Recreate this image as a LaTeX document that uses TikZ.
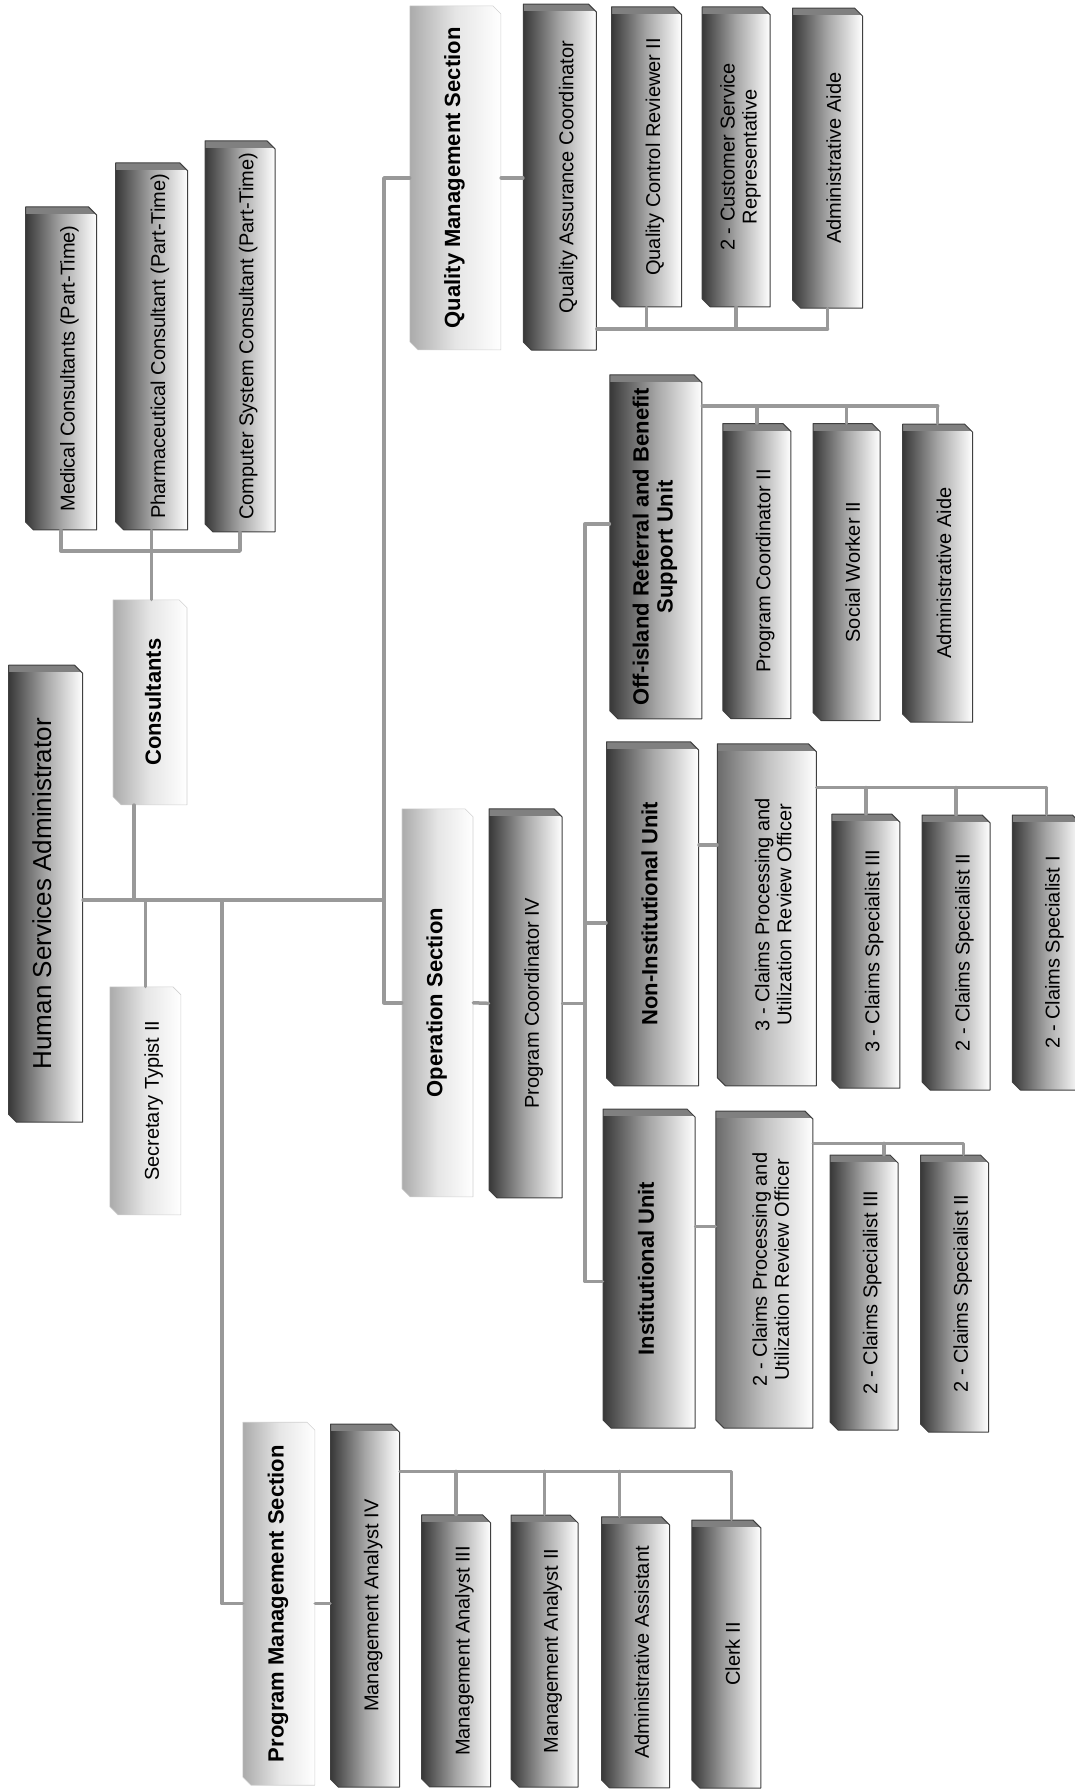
\documentclass[tikz,border=0pt]{standalone}
\usepackage{fontspec}
\setmainfont{Liberation Sans}
\usetikzlibrary{shapes.misc}
\newcommand{\vt}[2][18pt]{\hspace*{#1}\rotatebox{90}{\begin{tabular}{@{}c@{}}#2\end{tabular}}}
\begin{document}
\begin{tikzpicture}[x=1pt, y=-1pt, line cap=round, line join=round, font=\fontsize{20}{22}\selectfont]
	\tikzset{
		basebox/.style={chamfered rectangle, chamfered rectangle corners={north east,south west}, chamfered rectangle xsep=4pt, chamfered rectangle ysep=4pt, inner sep=0pt},
		darkbox/.style={basebox, draw=black!75, line width=1pt, left color=black!78, right color=white, middle color=black!35,
			path picture={\fill[black!50] (path picture bounding box.north west) rectangle ([yshift=-7pt]path picture bounding box.north east);}},
		midbox/.style={darkbox, left color=black!58, right color=white, middle color=black!24},
		unitbox/.style={darkbox, font=\bfseries\fontsize{22}{24}\selectfont},
		secbox/.style={basebox, draw=black!18, line width=0.6pt, left color=black!33, right color=white, middle color=black!10, font=\bfseries\fontsize{22}{24}\selectfont},
		link/.style={draw=black!40, line width=3.5pt}
	}
	\useasboundingbox (0,0) rectangle (1075,1791);
	
	% LEFT COLUMN: ADMINISTRATOR, CONSULTANTS, SECRETARY
	\node[darkbox, minimum width=74pt, minimum height=457pt, font=\fontsize{26}{28}\selectfont] (hsa) at (45.6,893.7) {\vt[0pt]{Human Services Administrator}};
	\node[secbox, minimum width=74pt, minimum height=205pt] (cons) at (150,702.3) {\vt[12pt]{Consultants}};
	\node[secbox, minimum width=71pt, minimum height=228pt, font=\fontsize{20}{22}\selectfont] (sec) at (145.4,1100.8) {\vt{Secretary Typist II}};
	\node[darkbox, minimum width=71pt, minimum height=323pt] (med) at (61.1,368.4) {\vt{Medical Consultants (Part-Time)}};
	\node[darkbox, minimum width=72pt, minimum height=367pt] (pharm) at (151.7,346.3) {\vt{Pharmaceutical Consultant (Part-Time)}};
	\node[darkbox, minimum width=70pt, minimum height=391pt] (comp) at (240,336.4) {\vt{Computer System Consultant (Part-Time)}};
	
	% SECTIONS
	\node[secbox, minimum width=91pt, minimum height=344pt] (qms) at (455.4,177.9) {\vt[0pt]{Quality Management Section}};
	\node[secbox, minimum width=71pt, minimum height=388pt] (op) at (437.5,1002.8) {\vt[0pt]{Operation Section}};
	\node[secbox, minimum width=72pt, minimum height=363pt] (pms) at (278.9,1603.7) {\vt[0pt]{Program Management Section}};
	
	% QUALITY MANAGEMENT
	\node[darkbox, minimum width=73pt, minimum height=346pt] (qac) at (559.9,177) {\vt{Quality Assurance Coordinator}};
	\node[darkbox, minimum width=70pt, minimum height=300pt] (qcr) at (646.6,156.8) {\vt{Quality Control Reviewer II}};
	\node[darkbox, minimum width=68pt, minimum height=300pt] (csr) at (736.2,156.8) {\vt[10pt]{2 - Customer Service\\Representative}};
	\node[darkbox, minimum width=70pt, minimum height=300pt] (aide1) at (827.5,158) {\vt{Administrative Aide}};
	
	% OPERATION
	\node[darkbox, minimum width=73pt, minimum height=389pt] (pc4) at (525.5,1003.3) {\vt{Program Coordinator IV}};
	\node[unitbox, minimum width=92pt, minimum height=344pt] (off) at (655.9,546.8) {\vt[0pt]{Off-island Referral and Benefit\\Support Unit}};
	\node[darkbox, minimum width=68pt, minimum height=295pt] (pc2) at (756.9,571) {\vt{Program Coordinator II}};
	\node[darkbox, minimum width=67pt, minimum height=297pt] (sw2) at (846.5,572) {\vt{Social Worker II}};
	\node[darkbox, minimum width=70pt, minimum height=298pt] (aide2) at (937.7,573.2) {\vt{Administrative Aide}};
	
	\node[unitbox, minimum width=92pt, minimum height=344pt] (niu) at (652.5,913.8) {\vt[0pt]{Non-Institutional Unit}};
	\node[midbox, minimum width=99pt, minimum height=342pt] (cpo3) at (766.9,914.8) {\vt{3 - Claims Processing and\\Utilization Review Officer}};
	\node[darkbox, minimum width=68pt, minimum height=274pt] (cs3n) at (865.9,951.2) {\vt{3 - Claims Specialist III}};
	\node[darkbox, minimum width=68pt, minimum height=275pt] (cs2n) at (956.2,952.5) {\vt{2 - Claims Specialist II}};
	\node[darkbox, minimum width=68pt, minimum height=275pt] (cs1n) at (1046.3,952.5) {\vt{2 - Claims Specialist I}};
	
	\node[unitbox, minimum width=92pt, minimum height=319pt] (iu) at (649,1268.5) {\vt[0pt]{Institutional Unit}};
	\node[midbox, minimum width=97pt, minimum height=317pt] (cpo2) at (764.4,1269.5) {\vt{2 - Claims Processing and\\Utilization Review Officer}};
	\node[darkbox, minimum width=68pt, minimum height=275pt] (cs3i) at (864,1292.5) {\vt{2 - Claims Specialist III}};
	\node[darkbox, minimum width=68pt, minimum height=277pt] (cs2i) at (954.5,1293.5) {\vt{2 - Claims Specialist II}};
	
	% PROGRAM MANAGEMENT
	\node[darkbox, minimum width=69pt, minimum height=363pt] (ma4) at (365,1605.7) {\vt{Management Analyst IV}};
	\node[darkbox, minimum width=69pt, minimum height=272pt] (ma3) at (456.2,1650.9) {\vt{Management Analyst III}};
	\node[darkbox, minimum width=67pt, minimum height=272pt] (ma2) at (544.5,1651) {\vt{Management Analyst II}};
	\node[darkbox, minimum width=68pt, minimum height=271pt] (adma) at (635.5,1652.3) {\vt{Administrative Assistant}};
	\node[darkbox, minimum width=69pt, minimum height=268pt] (clerk) at (726.4,1654) {\vt{Clerk II}};
	
	% CONNECTORS
	\coordinate (cbus) at (0,551);
	\coordinate (trunk) at (384,900);
	\coordinate (pmsx) at (222,900);
	\coordinate (ux) at (585,0);
	\coordinate (qbus) at (0,329);
	\coordinate (obus) at (0,406);
	\coordinate (nbus) at (0,787.5);
	\coordinate (ibus) at (0,1143.4);
	\coordinate (mbus) at (0,1471.4);
	
	\draw[link] (med.south) -- (med.south |- cbus) -- (comp.south |- cbus) -- (comp.south);
	\draw[link] (pharm.south) -- (pharm.south |- cons.north);
	\draw[link] (hsa.east |- trunk) -- (trunk);
	\draw[link] ([xshift=-16pt]cons.south) -- ([xshift=-16pt]cons.south |- trunk);
	\draw[link] (sec.north) -- (sec.north |- trunk);
	\draw[link] (pmsx) |- (pms.west);
	\draw[link] (qms.west) -| (trunk) |- (op.west);
	
	\draw[link] (qms.east) -- (qms.east -| qac.west);
	\draw[link] (qac.east |- qbus) -- (aide1.south |- qbus);
	\foreach \n in {qcr,csr,aide1}
		\draw[link] (\n.south) -- (\n.south |- qbus);
	
	\draw[link] (op.east) -- (pc4.west);
	\draw[link] (pc4.east) -- (pc4.east -| ux);
	\draw[link] ([yshift=23pt]off.west) -| ([yshift=-13pt]iu.west -| ux) -- ([yshift=-13pt]iu.west);
	\draw[link] ([yshift=-9pt]niu.west) -- ([yshift=-9pt]niu.west -| ux);
	
	\draw[link] (off.east |- obus) -- (aide2.north |- obus);
	\foreach \n in {pc2,sw2,aide2}
		\draw[link] (\n.north) -- (\n.north |- obus);
	
	\draw[link] ([yshift=69pt]niu.east) -- ([yshift=69pt]niu.east -| cpo3.west);
	\draw[link] (cpo3.east |- nbus) -- (cs1n.north |- nbus);
	\foreach \n in {cs3n,cs2n,cs1n}
		\draw[link] (\n.north) -- (\n.north |- nbus);
	
	\draw[link] ([yshift=42pt]iu.east) -- ([yshift=42pt]iu.east -| cpo2.west);
	\draw[link] (cpo2.east |- ibus) -- ([xshift=9pt]cs2i.north |- ibus) -- ([xshift=9pt]cs2i.north);
	\draw[link] ([xshift=20pt]cs3i.north) -- ([xshift=20pt]cs3i.north |- ibus);
	
	\draw[link] (pms.east) -- (pms.east -| ma4.west);
	\draw[link] (ma4.east |- mbus) -- ([xshift=5pt]clerk.north |- mbus) -- ([xshift=5pt]clerk.north);
	\draw[link] (ma3.north) -- (ma3.north |- mbus);
	\draw[link] (ma2.north) -- (ma2.north |- mbus);
	\draw[link] ([xshift=-16pt]adma.north) -- ([xshift=-16pt]adma.north |- mbus);
\end{tikzpicture}
\end{document}
